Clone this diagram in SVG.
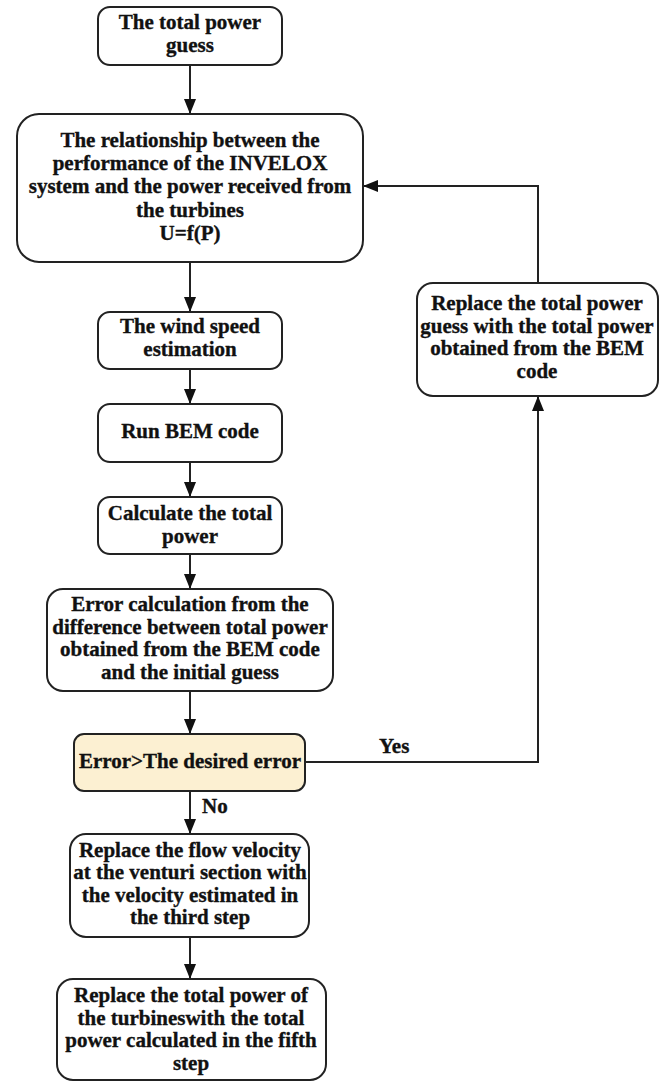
<svg xmlns="http://www.w3.org/2000/svg" width="669" height="1082" viewBox="0 0 669 1082">
<defs>
<marker id="ah" viewBox="0 0 15 12" refX="15" refY="6" markerWidth="15" markerHeight="12" markerUnits="userSpaceOnUse" orient="auto">
<path d="M0,0 L15,6 L0,12 z" fill="#111"/>
</marker>
</defs>
<style>
.box{fill:#fff;stroke:#222;stroke-width:2}
.dec{fill:#fcf0d2;stroke:#222;stroke-width:2}
.t{font-family:"Liberation Serif","Times New Roman",serif;font-weight:bold;font-size:21px;fill:#111;stroke:#111;stroke-width:0.35;text-anchor:middle}
.lbl{font-family:"Liberation Serif","Times New Roman",serif;font-weight:bold;font-size:21px;fill:#111;stroke:#111;stroke-width:0.35}
.c{fill:none;stroke:#222;stroke-width:2}
</style>
<rect width="669" height="1082" fill="#fff"/>
<g id="connectors">
<path class="c" d="M190,65 V114" marker-end="url(#ah)"/>
<path class="c" d="M190,262 V312" marker-end="url(#ah)"/>
<path class="c" d="M190,369 V404" marker-end="url(#ah)"/>
<path class="c" d="M190,462 V497" marker-end="url(#ah)"/>
<path class="c" d="M190,554 V589" marker-end="url(#ah)"/>
<path class="c" d="M190,691 V734" marker-end="url(#ah)"/>
<path class="c" d="M190,791 V834" marker-end="url(#ah)"/>
<path class="c" d="M190,937 V979" marker-end="url(#ah)"/>
<path class="c" d="M305,762 H538 V396" marker-end="url(#ah)"/>
<path class="c" d="M538,283 V186 H363" marker-end="url(#ah)"/>
<text class="lbl" x="379" y="753">Yes</text>
<text class="lbl" x="202" y="813">No</text>
</g>
<g id="n1">
<rect class="box" x="98" y="7" width="184" height="58" rx="12"/>
<text class="t" x="190" y="29">The total power</text>
<text class="t" x="190" y="52">guess</text>
</g>
<g id="n2">
<rect class="box" x="17" y="114" width="346" height="148" rx="22"/>
<text class="t" x="190" y="147">The relationship between the</text>
<text class="t" x="190" y="170">performance of the INVELOX</text>
<text class="t" x="190" y="193">system and the power received from</text>
<text class="t" x="190" y="217">the turbines</text>
<text class="t" x="190" y="240">U=f(P)</text>
</g>
<g id="n3">
<rect class="box" x="98" y="312" width="184" height="57" rx="12"/>
<text class="t" x="190" y="333">The wind speed</text>
<text class="t" x="190" y="356">estimation</text>
</g>
<g id="n4">
<rect class="box" x="98" y="404" width="184" height="58" rx="12"/>
<text class="t" x="190" y="438">Run BEM code</text>
</g>
<g id="n5">
<rect class="box" x="98" y="497" width="184" height="57" rx="12"/>
<text class="t" x="190" y="520">Calculate the total</text>
<text class="t" x="190" y="543">power</text>
</g>
<g id="n6">
<rect class="box" x="47" y="589" width="286" height="102" rx="16"/>
<text class="t" x="190" y="611">Error calculation from the</text>
<text class="t" x="190" y="634">difference between total power</text>
<text class="t" x="190" y="656">obtained from the BEM code</text>
<text class="t" x="190" y="679">and the initial guess</text>
</g>
<g id="n7">
<rect class="dec" x="74" y="734" width="231" height="57" rx="10"/>
<text class="t" x="190" y="768">Error&gt;The desired error</text>
</g>
<g id="n8">
<rect class="box" x="70" y="834" width="239" height="103" rx="16"/>
<text class="t" x="190" y="857">Replace the flow velocity</text>
<text class="t" x="190" y="879">at the venturi section with</text>
<text class="t" x="190" y="902">the velocity estimated in</text>
<text class="t" x="190" y="924">the third step</text>
</g>
<g id="n9">
<rect class="box" x="57" y="979" width="269" height="101" rx="16"/>
<text class="t" x="191" y="1002">Replace the total power of</text>
<text class="t" x="191" y="1025">the turbineswith the total</text>
<text class="t" x="191" y="1047">power calculated in the fifth</text>
<text class="t" x="191" y="1070">step</text>
</g>
<g id="n10">
<rect class="box" x="417" y="283" width="241" height="113" rx="16"/>
<text class="t" x="537" y="310">Replace the total power</text>
<text class="t" x="537" y="333">guess with the total power</text>
<text class="t" x="537" y="355">obtained from the BEM</text>
<text class="t" x="537" y="378">code</text>
</g>
</svg>
